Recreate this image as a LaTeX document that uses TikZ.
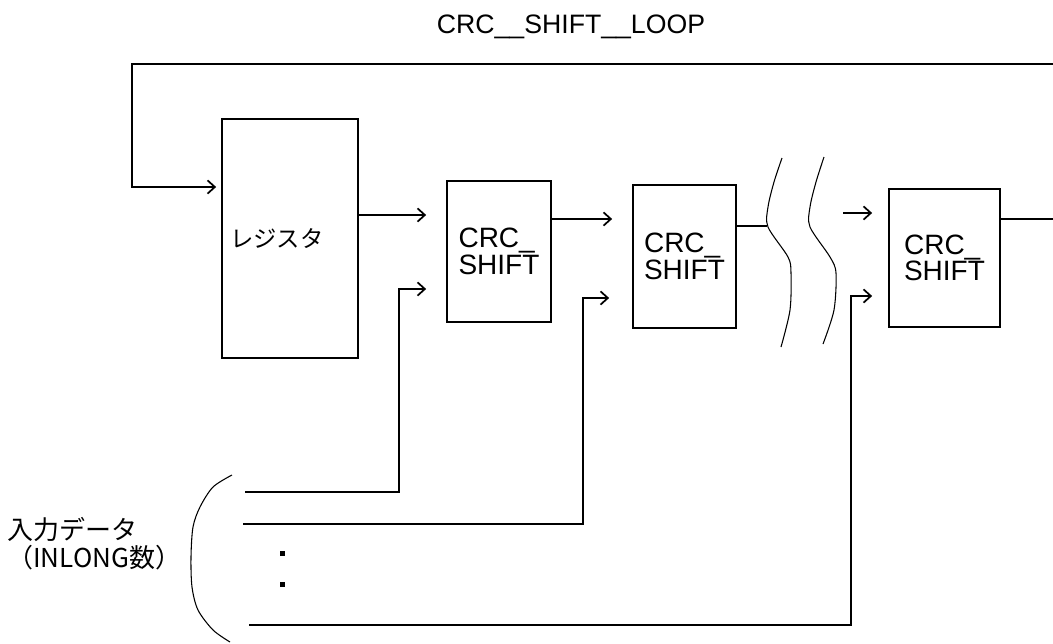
\documentclass[tikz,border=0pt]{standalone}
\usepackage{fontspec}
\setmainfont{Liberation Sans}
\newfontfamily\jp{Noto Sans CJK JP}
\usetikzlibrary{arrows.meta,positioning}

\begin{document}
\begin{tikzpicture}[x=0.75pt,y=-0.75pt,line width=1.3pt,
    >={Straight Barb[length=5.5pt,width=10pt]},
    blk/.style={draw,inner sep=0pt,align=left,font=\fontsize{21}{20}\selectfont},
    wave/.style={line width=0.8pt}]
  \useasboundingbox (0,0) rectangle (1053,643);
  \node (title) at (571,26.5) {\fontsize{20}{24}\selectfont CRC\_\_SHIFT\_\_LOOP};
  \node[blk,minimum width=102pt,minimum height=179.25pt,inner xsep=6pt,
    text width=90pt,font=\jp\fontsize{17.5}{20}\selectfont] (reg) at (290,238.5) {レジスタ};
  \node[blk,minimum width=78pt,minimum height=105.75pt] (crcA) at (499,251.5) {CRC\_\\SHIFT};
  \node[blk,minimum width=77.25pt,minimum height=107.25pt] (crcB) at (684.5,256.5) {CRC\_\\SHIFT};
  \node[blk,minimum width=83.25pt,minimum height=103.5pt] (crcC) at (944.5,258) {CRC\_\\SHIFT};
  \node[anchor=west,align=left,font=\jp\fontsize{19.5}{21}\selectfont] (inlbl) at (2,544)
    {入力データ\\（INLONG数）};
  \node[fill,inner sep=0pt,minimum size=3.75pt] (dotA) at (282,553) {};
  \node[fill,inner sep=0pt,minimum size=3.75pt] (dotB) at (282,584) {};
  \coordinate (brkA) at (767,226);
  \coordinate (brk) at (843,213);
  \coordinate (inA) at (245,492);
  \coordinate (inB) at (243,524);
  \coordinate (inC) at (249,625);
  \draw[->,shorten >=15pt] (reg.east |- 0,215) -- (crcA.west |- 0,215);
  \draw[->,shorten >=15pt] (crcA.east |- 0,219) -- (crcB.west |- 0,219);
  \draw (crcB.east |- brkA) -- (brkA);
  \draw[->,shorten >=12pt] (brk) -- (crcC.west |- brk);
  \draw[->,shorten >=3.75pt] (crcC.east |- 0,219) -- (1057,219) |- (132,64) |- (reg.west |- 0,187);
  \draw[->,shorten >=15pt] (inA) -| (399,289) -- (crcA.west |- 0,289);
  \draw[->,shorten >=17.25pt] (inB) -| (583,298) -- (crcB.west |- 0,298);
  \draw[->,shorten >=12pt] (inC) -| (851,296) -- (crcC.west |- 0,296);
  \draw[wave] plot[smooth] coordinates {(782,158) (774,182) (768,207) (768,227) (788,257) (791,273) (790,310) (781,347)};
  \draw[wave] plot[smooth] coordinates {(824,157) (816,182) (810,207) (810,227) (830,257) (836,273) (834,310) (823,344)};
  \draw[wave] plot[smooth] coordinates {(232,475) (213,487) (200,507) (193,527) (191,557) (192,587) (198,610) (213,630) (230,642)};
\end{tikzpicture}
\end{document}
